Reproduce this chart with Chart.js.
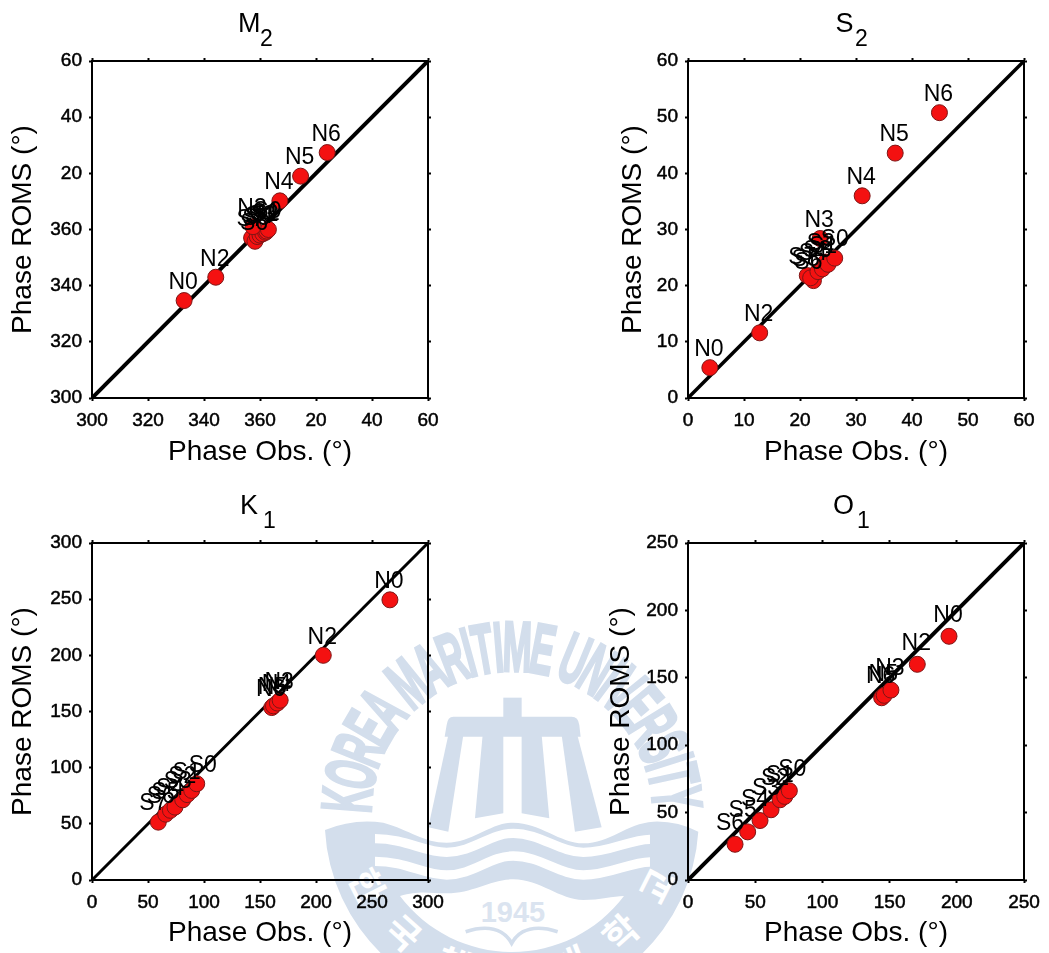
<!DOCTYPE html>
<html>
<head>
<meta charset="utf-8">
<title>Phase comparison</title>
<script src="https://cdn.jsdelivr.net/npm/chart.js@4"></script>
<style>
html,body{margin:0;padding:0;background:#fff;width:1049px;height:953px;overflow:hidden}
svg,canvas{position:absolute}
svg{left:0;top:0}
</style>
</head>
<body>
<svg id="mark" width="1049" height="953" viewBox="0 0 1049 953">
  <g fill="#d3deec">
    <g id="arc" stroke="#d3deec" stroke-width="3"></g>
    <g transform="translate(300,600) scale(0.3333)">
      <rect x="610" y="293" width="55" height="70"/>
      <path d="M460,350 H815 Q835,350 838,375 L842,410 H434 L440,375 Q443,350 460,350 Z"/>
      <path d="M445,405 H490 L445,695 L385,682 Z"/>
      <path d="M548,405 H610 V640 L525,655 Z"/>
      <path d="M665,405 H725 L748,655 L665,640 Z"/>
      <path d="M785,405 H832 L905,682 L825,695 Z"/>
      <path d="M75,690 Q160,655 250,668 C330,690 370,728 440,728 C520,728 570,668 640,668 C720,668 780,730 850,730 C930,730 980,670 1060,665 Q1130,662 1195,695 A561,561 0 0 1 75,690 Z"/>
      <g fill="none" stroke="#fff" stroke-width="28">
        <path d="M225,716 C320,716 370,757 440,757 C520,757 570,700 640,700 C720,700 780,757 850,757 C930,757 990,718 1050,718"/>
        <path d="M225,784 C320,784 370,825 440,825 C520,825 570,768 640,768 C720,768 780,825 850,825 C930,825 990,786 1050,786"/>
      </g>
      <path fill="#fff" d="M300,888 C360,870 390,880 440,880 C520,880 570,838 640,838 C720,838 780,900 850,900 C900,900 940,888 972,888 A420,420 0 0 1 300,888 Z"/>
      <g fill="none" stroke="#d3deec" stroke-width="11">
        <path d="M497,995 C560,975 610,985 635,1030 C660,985 710,975 773,995"/>
      </g>
    </g>
    <text x="513" y="922" font-family="Liberation Sans" font-size="29" font-weight="bold" text-anchor="middle" fill="#dbe4f0">1945</text>
    <g id="hangul" font-family="Noto Sans CJK KR" font-size="36" font-weight="bold" fill="#fff" text-anchor="middle"></g>
  </g>
</svg>
<canvas id="m2" width="500" height="473" style="left:0;top:0"></canvas>
<canvas id="s2" width="479" height="473" style="left:570px;top:0"></canvas>
<canvas id="k1" width="500" height="473" style="left:0;top:480px"></canvas>
<canvas id="o1" width="479" height="473" style="left:570px;top:480px"></canvas>
<script>
// ---- data ----
const m2Labels = ['N0','N2','S7','S6','S5','S4','S3','S2','S1','S0','N3','N4','N5','N6'];
const m2Obs    = [332.9,344.2,357,358.2,359,360,361,362,362.4,363,357.5,367.1,374.5,384];
const m2Roms   = [334.7,343,357,355.8,357.5,358,358.5,359,359.4,360,361,370.2,379,387.4];

const s2Labels = ['N0','N2','S7','S6','S5','S4','S3','S2','S1','S0','N3','N4','N5','N6'];
const s2Obs    = [3.9,12.8,21.3,22.4,21.9,23.2,24,24.6,25,26.2,23.6,31.1,37,44.9];
const s2Roms   = [5.4,11.6,21.8,20.9,21.4,22.5,23,24.2,23.8,24.9,28.4,36,43.6,50.8];

const k1Labels = ['S7','S6','S5','S4','S3','S2','S1','S0','N6','N5','N4','N3','N2','N0'];
const k1Obs    = [59.2,65.8,70,74.1,81,85,89,93.5,160.5,162,165.5,168,206.5,266];
const k1Roms   = [51.5,58.6,62,64.9,71.4,76,79.7,85.7,153.5,155,157.5,160,200,249.4];

const o1Labels = ['S6','S5','S4','S3','S2','S1','S0','N6','N5','N3','N2','N0'];
const o1Obs    = [35,44.4,53.6,61.8,68.5,72,75.4,144.1,146,151,170.6,194.2];
const o1Roms   = [26.5,35.7,44.1,52.1,59.5,62,66.2,135.2,137,140.9,160,180.8];

const m2Range = [300,420], s2Range = [0,60], k1Range = [0,300], o1Range = [0,250];
const m2Step = 20, s2Step = 10, k1Step = 50, o1Step = 50;

const archText = 'KOREA MARITIME UNIVERSITY';
const sealText = '한국해양대학교';

// ---- watermark ----
(function(){
  const cx=512, cy=812, r=141, size=71, fam='bold 71px "Liberation Sans"';
  const c=document.createElement('canvas').getContext('2d'); c.font=fam;
  const ws=[...archText].map(ch=>c.measureText(ch).width);
  const total=ws.reduce((a,b)=>a+b,0), span=Math.PI*0.995;
  let a=-Math.PI/2, out='';
  [...archText].forEach((ch,i)=>{
    const da=span*ws[i]/total, m=a+da/2;
    const sx=0.49;
    const x=cx+r*Math.sin(m), y=cy-r*Math.cos(m);
    out+=`<text transform="translate(${x.toFixed(1)},${y.toFixed(1)}) rotate(${(m*180/Math.PI).toFixed(1)}) scale(${sx},1)" font-family="Liberation Sans" font-weight="bold" font-size="${size}" text-anchor="middle">${ch}</text>`;
    a+=da;
  });
  document.getElementById('arc').innerHTML=out;
  let h='';
  [...sealText].forEach((ch,i)=>{
    const phi=(63-21*i)*Math.PI/180, R=163;
    const x=cx-R*Math.sin(phi), y=cy+R*Math.cos(phi);
    h+=`<text transform="translate(${x.toFixed(1)},${y.toFixed(1)}) rotate(${(63-21*i)}) translate(0,13)">${ch}</text>`;
  });
  document.getElementById('hangul').innerHTML=h;
})();

// ---- charts ----
const FONT='"Liberation Sans", Arial, sans-serif';
Chart.defaults.font.family=FONT;
Chart.defaults.color='#000';

const stationLabels={
  id:'stationLabels',
  afterDatasetsDraw(chart,_,o){
    const {ctx}=chart, meta=chart.getDatasetMeta(0);
    ctx.save();
    ctx.font='23px '+FONT; ctx.fillStyle='#000'; ctx.textAlign='center'; ctx.textBaseline='middle';
    meta.data.forEach((p,i)=>{
      const t=o.names[i];
      const dx=t==='S0'?o.s0dx:(t[0]==='S'?o.sdx:-1);
      ctx.fillText(t,p.x+dx,p.y+o.dy);
    });
    ctx.restore();
  }
};
const panelTitle={
  id:'panelTitle',
  afterDraw(chart,_,o){
    const {ctx,chartArea:a}=chart;
    ctx.save();
    ctx.fillStyle='#000'; ctx.textAlign='left'; ctx.textBaseline='alphabetic';
    const mid=(a.left+a.right)/2;
    ctx.font='27px '+FONT;
    ctx.fillText(o.main,mid+o.mainDx,a.top-29);
    ctx.font='23px '+FONT;
    ctx.fillText(o.sub,mid+o.subDx,a.top-15);
    ctx.restore();
  }
};

function axis(range,step,pos,extra){
  return Object.assign({
    type:'linear',position:pos,min:range[0],max:range[1],
    border:{color:'#000',width:2},
    grid:{drawOnChartArea:false,drawTicks:true,tickLength:3,tickWidth:2,tickColor:'#000'},
    ticks:{display:false,stepSize:step,autoSkip:false,maxRotation:0}
  },extra||{});
}
function fmt(){return v=>v>360?v-360:v;}

function build(id,cfg){
  const pts=cfg.obs.map((x,i)=>({x,y:cfg.roms[i]}));
  const line=[{x:cfg.range[0],y:cfg.range[0]},{x:cfg.range[1],y:cfg.range[1]}];
  const W=+document.getElementById(id).width, H=473;
  const tickOpts={display:true,stepSize:cfg.step,autoSkip:false,maxRotation:0,font:{size:19},color:'#000',
    textStrokeWidth:0.5,textStrokeColor:'#000',callback:fmt()};
  new Chart(document.getElementById(id),{
    type:'scatter',
    data:{datasets:[
      {data:pts,pointRadius:8,pointBackgroundColor:'#f41111',pointBorderColor:'#7d1515',pointBorderWidth:1,showLine:false},
      {data:line,showLine:true,pointRadius:0,borderColor:'#000',borderWidth:cfg.lw}
    ]},
    options:{
      responsive:false,animation:false,events:[],
      layout:{padding:{left:cfg.titleX-14,right:0,top:0,bottom:H-(cfg.plotBottom+cfg.titleDy+14)}},
      plugins:{legend:{display:false},tooltip:{enabled:false},
        stationLabels:{names:cfg.names,dy:cfg.dy,sdx:cfg.sdx,s0dx:cfg.s0dx},
        panelTitle:{main:cfg.main,sub:cfg.sub,mainDx:cfg.mainDx,subDx:cfg.subDx}},
      scales:{
        x:axis(cfg.range,cfg.step,'bottom',{
          ticks:Object.assign({},tickOpts,{padding:8}),
          title:{display:true,text:'Phase Obs. (°)',font:{size:28,lineHeight:1},padding:0,color:'#000'},
          afterFit(s){s.height=cfg.titleDy+14;}
        }),
        y:axis(cfg.range,cfg.step,'left',{
          ticks:Object.assign({},tickOpts,{padding:7}),
          title:{display:true,text:'Phase ROMS (°)',font:{size:28,lineHeight:1},padding:0,color:'#000'},
          afterFit(s){s.width=cfg.plotLeft-(cfg.titleX-14);}
        }),
        x2:axis(cfg.range,cfg.step,'top',{afterFit(s){s.height=cfg.plotTop;}}),
        y2:axis(cfg.range,cfg.step,'right',{afterFit(s){s.width=W-(cfg.plotLeft+336);}})
      }
    },
    plugins:[stationLabels,panelTitle]
  });
}

build('m2',{names:m2Labels,obs:m2Obs,roms:m2Roms,range:m2Range,step:m2Step,main:'M',sub:'2',mainDx:-22,subDx:0,
  plotLeft:92,plotTop:61,plotBottom:398,titleX:23,titleDy:54,dy:-18,lw:4,sdx:-1,s0dx:-1});
build('s2',{names:s2Labels,obs:s2Obs,roms:s2Roms,range:s2Range,step:s2Step,main:'S',sub:'2',mainDx:-20.5,subDx:-1,
  plotLeft:118,plotTop:61,plotBottom:398,titleX:63,titleDy:54,dy:-18,lw:3.5,sdx:-5,s0dx:0});
build('k1',{names:k1Labels,obs:k1Obs,roms:k1Roms,range:k1Range,step:k1Step,main:'K',sub:'1',mainDx:-20,subDx:3,
  plotLeft:92,plotTop:63,plotBottom:400,titleX:23,titleDy:53,dy:-18,lw:3,sdx:-5,s0dx:6});
build('o1',{names:o1Labels,obs:o1Obs,roms:o1Roms,range:o1Range,step:o1Step,main:'O',sub:'1',mainDx:-23,subDx:1,
  plotLeft:118,plotTop:63,plotBottom:400,titleX:51,titleDy:53,dy:-21,lw:4,sdx:-5,s0dx:3});
</script>
</body>
</html>
